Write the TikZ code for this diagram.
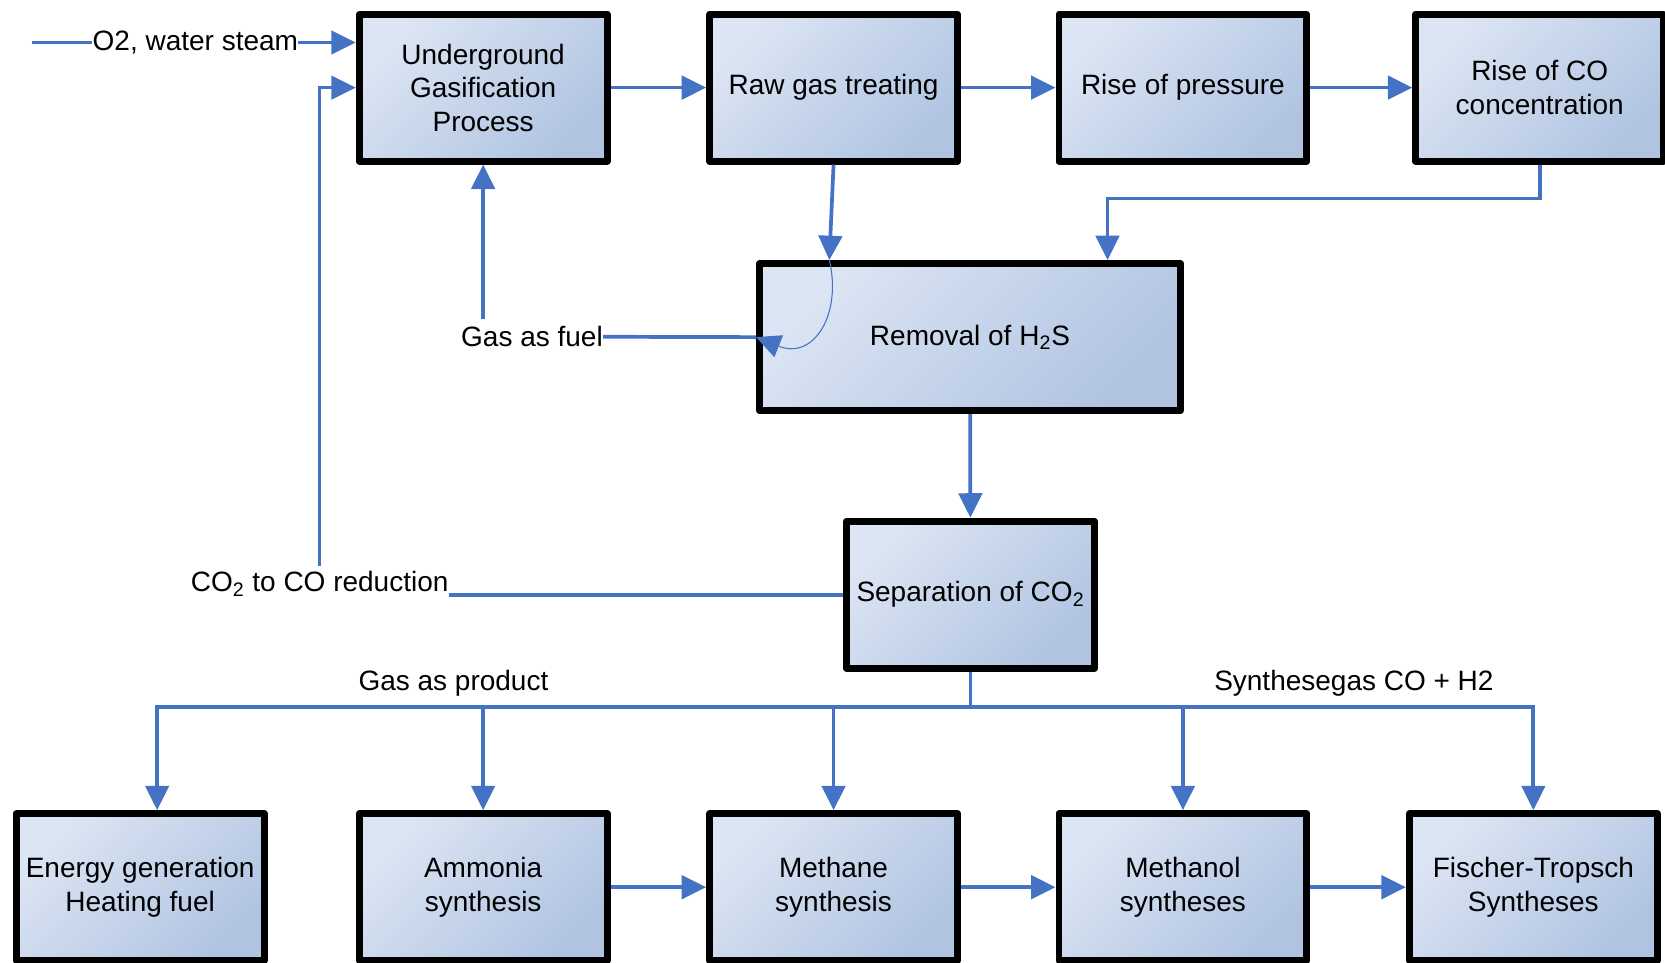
\documentclass[tikz,border=0pt]{standalone}
\usepackage{fontspec}
\setmainfont{Liberation Sans}
\usetikzlibrary{arrows.meta}
\definecolor{flowblue}{RGB}{68,114,196}
\definecolor{boxlight}{RGB}{220,229,243}
\definecolor{boxdark}{RGB}{176,196,226}

\begin{document}
\begin{tikzpicture}[x=0.2mm,y=-0.2mm,>={Triangle[length=4.6mm,width=4.4mm]},
  font=\fontsize{15}{18}\selectfont]
  \tikzstyle{process}=[rectangle,draw=black,line width=1.3mm,line join=round,top color=boxlight,
    bottom color=boxdark,shading angle=45,minimum width=46.7mm,minimum height=27.7mm,align=center]
  \tikzstyle{flow}=[draw=flowblue,line width=0.7mm]
  \tikzstyle{lbl}=[inner sep=0pt]

\useasboundingbox (0,0) rectangle (1568,906);

\node[process] (ugp) at (455,82.5) {Underground\\Gasification\\Process};
\node[process] (raw) at (785,82.5) {Raw gas treating};
\node[process] (press) at (1114,82.5) {Rise of pressure};
\node[process] (co) at (1450,82.5) {Rise of CO\\concentration};
\node[process,minimum width=79.3mm] (rem) at (913.5,317.5) {Removal of H\textsubscript{2}S};
\node[process] (sep) at (914,560) {Separation of CO\textsubscript{2}};

\node[process] (en) at (132,835.5) {Energy generation\\Heating fuel};
\node[process] (amm) at (455,835.5) {Ammonia\\synthesis};
\node[process] (meth) at (785,835.5) {Methane\\synthesis};
\node[process] (mol) at (1114,835.5) {Methanol\\syntheses};
\node[process] (ft) at (1444,835.5) {Fischer-Tropsch\\Syntheses};

\node[lbl] (o2) at (184,40) {O2, water steam};
\node[lbl] (fuel) at (501,317) {Gas as fuel};
\node[lbl] (co2red) at (301,550) {CO\textsubscript{2} to CO reduction};
\node[lbl] (gprod) at (427,643) {Gas as product};
\node[lbl] (syn) at (1275,643) {Synthesegas CO + H2};

\coordinate (o2in) at (30,40);
\coordinate (cojoin) at (1043,187);
\coordinate (rawin) at (781,245);

\draw[flow] (o2in) -- (o2);
\draw[flow,->] (o2) -- (ugp.west |- o2);
\foreach \a/\b in {ugp/raw,raw/press,press/co,amm/meth,meth/mol,mol/ft} {
  \draw[flow,->] (\a) -- (\b);
}

\draw[flow,->] (raw.south) -- (rawin);
\draw[->,draw=flowblue,line width=0.2mm] (rawin) .. controls +(12,50) and +(55,22) .. (rem.west);
\draw[flow,->] (co.south) |- (cojoin) -- (cojoin |- rem.north);
\draw[flow] (fuel) -- (rem.west);
\draw[flow,->] ([yshift=1.4mm]ugp.south |- fuel.north) -- (ugp.south);

\draw[flow,->] (rem) -- (sep);
\draw[flow] (sep.west) -- (co2red.east |- sep.west);
\draw[flow,->] ([yshift=1mm]co2red.north) |- (ugp);

\foreach \n/\s in {en/3.2mm,amm/0mm,meth/0mm,mol/0mm,ft/0mm} {
  \draw[flow,->] (sep.south) -- ++(0,33) -| ([xshift=\s]\n.north);
}

\end{tikzpicture}
\end{document}
